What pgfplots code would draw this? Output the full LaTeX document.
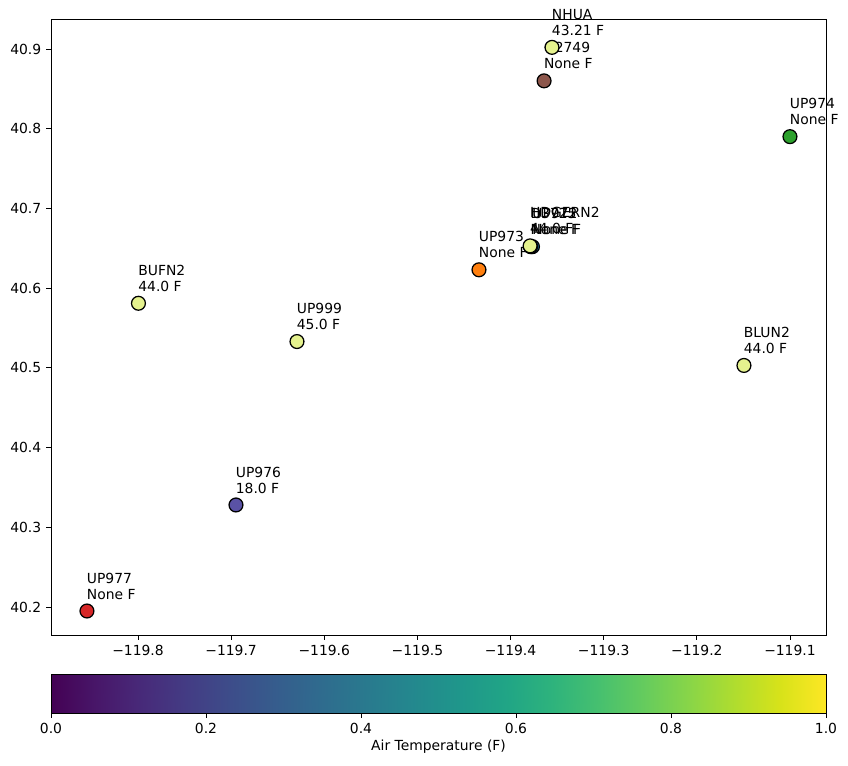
\documentclass[border=0pt]{standalone}
\usepackage{pgfplots}
\pgfplotsset{compat=1.18}
\usepackage{fontspec}
\setmainfont{DejaVu Sans}
\definecolor{yel}{HTML}{E5F28E}
\definecolor{pur}{HTML}{5A52A5}
\definecolor{tred}{HTML}{D62728}
\definecolor{tbrown}{HTML}{8C564B}
\definecolor{tgreen}{HTML}{2CA02C}
\definecolor{torange}{HTML}{FF7F0E}
\definecolor{tblue}{HTML}{1F77B4}
\pgfplotsset{
  stn/.style 2 args={only marks, mark=*, mark size=5pt,
    mark options={fill=#1, draw=black, line width=0.9pt},
    nodes near coords={#2},
    nodes near coords style={anchor=south west, align=left, inner sep=0pt,
      yshift=8pt, xshift=-0.5pt, text=black, font=\fontsize{10}{11.5}\selectfont}},
}
\begin{document}
\begin{tikzpicture}
\path[use as bounding box] (0,0) rectangle (610.56pt,551.52pt);
\begin{axis}[
  at={(36.72pt,94.32pt)}, anchor=south west, scale only axis,
  width=558pt, height=443.52pt,
  xmin=-119.8934, xmax=-119.0613, ymin=40.1649, ymax=40.9376,
  tick align=outside, major tick length=3.5pt, tick pos=left,
  tick style={black, line width=0.6pt},
  axis line style={line width=0.6pt},
  /pgf/number format/assume math mode=true,
  ticklabel style={font=\fontsize{10}{12}\selectfont},
  xtick={-119.8,-119.7,-119.6,-119.5,-119.4,-119.3,-119.2,-119.1},
  xticklabels={−119.8,−119.7,−119.6,−119.5,−119.4,−119.3,−119.2,−119.1},
  ytick={40.2,40.3,40.4,40.5,40.6,40.7,40.8,40.9},
  yticklabels={40.2,40.3,40.4,40.5,40.6,40.7,40.8,40.9},
  clip=false,
]
\addplot[stn={tred}{UP977\\None F}] coordinates {(-119.8548,40.195)};
\addplot[stn={pur}{UP976\\18.0 F}] coordinates {(-119.6948,40.328)};
\addplot[stn={yel}{UP999\\45.0 F}] coordinates {(-119.6293,40.533)};
\addplot[stn={yel}{BUFN2\\44.0 F}] coordinates {(-119.7995,40.581)};
\addplot[stn={torange}{UP973\\None F}] coordinates {(-119.4339,40.623)};
\addplot[stn={tblue}{UP972\\None F}] coordinates {(-119.3765,40.652)};
\addplot[stn={yel}{D3725\\None F}] coordinates {(-119.3785,40.652)};
\addplot[stn={yel}{HDGERN2\\44.0 F}] coordinates {(-119.3790,40.653)};
\addplot[stn={yel}{BLUN2\\44.0 F}] coordinates {(-119.1494,40.503)};
\addplot[stn={tgreen}{UP974\\None F}] coordinates {(-119.1000,40.790)};
\addplot[stn={tbrown}{G2749\\None F}] coordinates {(-119.3640,40.860)};
\addplot[stn={yel}{NHUA\\43.21 F}] coordinates {(-119.3555,40.902)};
\end{axis}
\begin{axis}[
  at={(36.72pt,38.16pt)}, anchor=south west, scale only axis,
  width=558pt, height=28.08pt,
  xmin=0, xmax=1, ymin=0, ymax=1,
  ytick=\empty,
  tick align=outside, major tick length=3.5pt, xtick pos=bottom,
  tick style={black, line width=0.6pt},
  axis line style={line width=0.6pt},
  /pgf/number format/assume math mode=true,
  ticklabel style={font=\fontsize{10}{12}\selectfont},
  xtick={0,0.2,0.4,0.6,0.8,1},
  xticklabels={0.0,0.2,0.4,0.6,0.8,1.0},
  xlabel={Air Temperature (F)},
  xlabel style={font=\fontsize{10}{12}\selectfont, yshift=2pt},
  colormap/viridis, axis on top,
]
\addplot[surf, shader=interp, point meta=x] coordinates {
(0,0) (0.25,0) (0.5,0) (0.75,0) (1,0)

(0,1) (0.25,1) (0.5,1) (0.75,1) (1,1)
};
\end{axis}
\end{tikzpicture}
\end{document}
